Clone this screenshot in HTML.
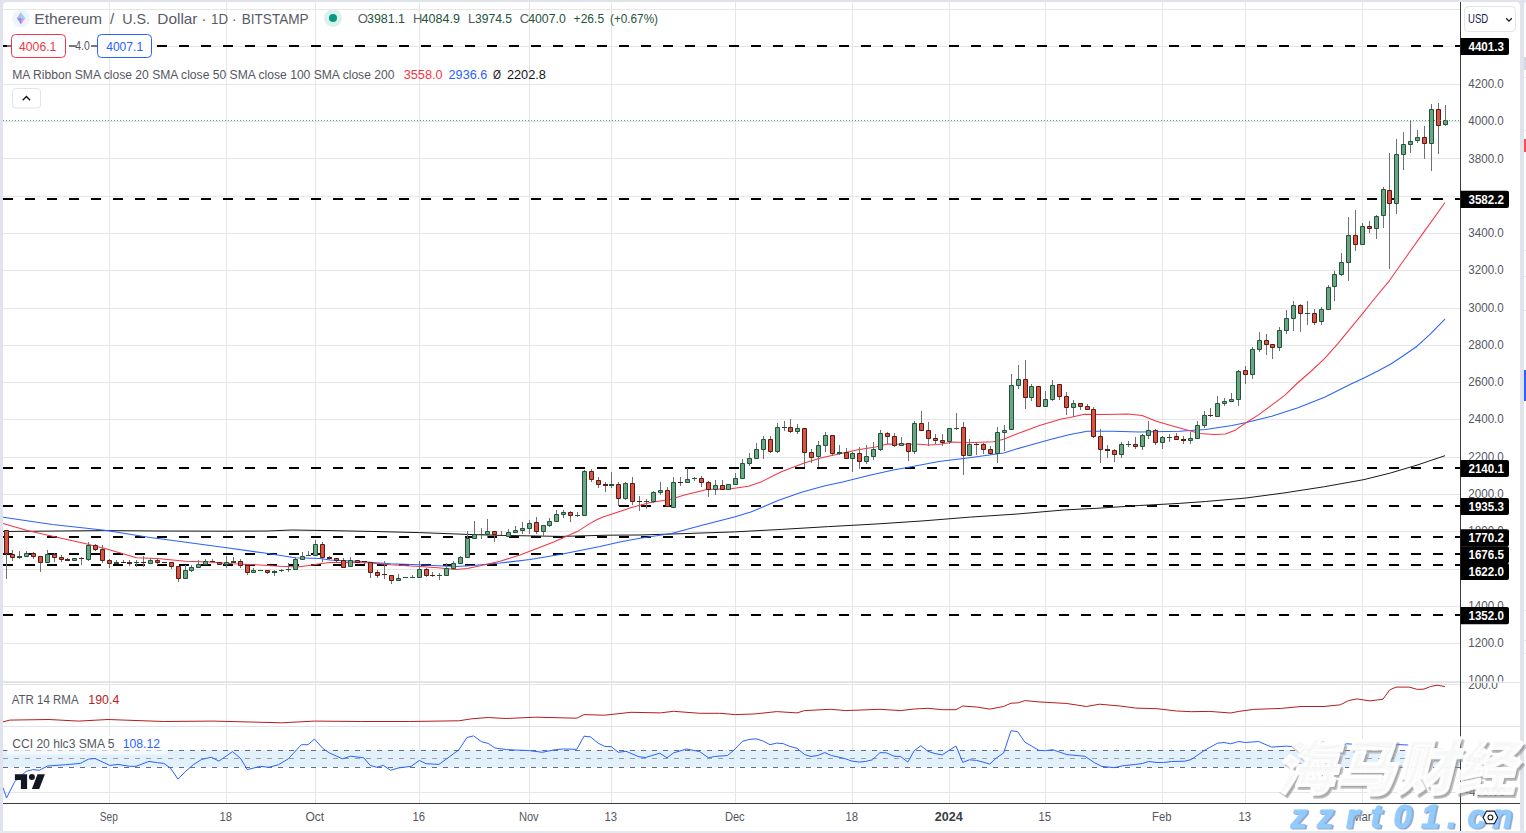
<!DOCTYPE html>
<html lang="en"><head><meta charset="utf-8"><title>ETHUSD chart</title>
<style>html,body{margin:0;padding:0;background:#e0e3eb;overflow:hidden}svg text{white-space:pre}</style></head>
<body>
<svg width="1526" height="833" viewBox="0 0 1526 833" style="display:block" font-family="'Liberation Sans', sans-serif">
<defs><clipPath id="cp"><rect x="3" y="2" width="1457" height="801"/></clipPath><clipPath id="c1000"><rect x="1461" y="660" width="60" height="21.5"/></clipPath><clipPath id="c200"><rect x="1461" y="683" width="60" height="20"/></clipPath><filter id="bl" x="-5%" y="-5%" width="110%" height="110%"><feGaussianBlur stdDeviation="0.7"/></filter><clipPath id="cw"><rect x="3" y="2" width="1523" height="830"/></clipPath></defs>
<rect width="1526" height="833" fill="#e0e3eb"/>
<path d="M3 831V6a4 4 0 0 1 4 -4H1516a4 4 0 0 1 4 4V831Z" fill="#fff"/>
<rect x="0" y="831" width="1526" height="2" fill="#e6e8ef"/>
<path d="M1524 831V5a3 3 0 0 1 3 -3V831Z" fill="#fff"/>
<rect x="1524" y="57" width="2" height="13" fill="#d5d8e0"/>
<rect x="1524" y="139" width="2" height="13" fill="#ff4d4f"/>
<rect x="1524" y="370" width="2" height="31" fill="#2962ff"/>
<rect x="1524" y="77" width="2" height="1" fill="#e6e8ee"/>
<rect x="1524" y="130" width="2" height="1" fill="#e6e8ee"/>
<rect x="1524" y="250" width="2" height="1" fill="#e6e8ee"/>
<rect x="1524" y="276" width="2" height="1" fill="#e6e8ee"/>
<rect x="1524" y="310" width="2" height="1" fill="#e6e8ee"/>
<rect x="1524" y="610" width="2" height="1" fill="#e6e8ee"/>
<rect x="1524" y="640" width="2" height="1" fill="#e6e8ee"/>
<rect x="1524" y="653" width="2" height="1" fill="#e6e8ee"/>
<path d="M3 9.5H1460 M3 46.5H1460 M3 84.5H1460 M3 121.5H1460 M3 158.5H1460 M3 196.5H1460 M3 233.5H1460 M3 270.5H1460 M3 308.5H1460 M3 345.5H1460 M3 382.5H1460 M3 419.5H1460 M3 457.5H1460 M3 494.5H1460 M3 531.5H1460 M3 569.5H1460 M3 606.5H1460 M3 643.5H1460 M3 681.5H1460 M109.5 2V803 M226.5 2V803 M315.5 2V803 M419.5 2V803 M529.5 2V803 M611.5 2V803 M735.5 2V803 M852.5 2V803 M949.5 2V803 M1045.5 2V803 M1162.5 2V803 M1245.5 2V803 M1362.5 2V803 M3 684.5H1460 M3 792.5H1460" stroke="#e6e6e6" stroke-width="1" fill="none"/>
<rect x="3" y="682" width="1517" height="1" fill="#e0e3eb"/>
<rect x="3" y="726" width="1517" height="1" fill="#e0e3eb"/>
<rect x="3" y="750" width="1457" height="17.5" fill="#e3f1fd"/>
<path d="M3 750.5H1460M3 767.5H1460" stroke="#6a6d78" stroke-width="1" stroke-dasharray="5 6" fill="none"/>
<path d="M3 758.5H1460" stroke="#9a9da6" stroke-width="1" stroke-dasharray="5 6" fill="none"/>
<g clip-path="url(#cp)">
<path d="M3 46H1460" stroke="#000" stroke-width="2" stroke-dasharray="10 12" fill="none"/>
<path d="M3 199H1460" stroke="#000" stroke-width="2" stroke-dasharray="10 12" fill="none"/>
<path d="M3 468H1460" stroke="#000" stroke-width="2" stroke-dasharray="10 12" fill="none"/>
<path d="M3 506H1460" stroke="#000" stroke-width="2" stroke-dasharray="10 12" fill="none"/>
<path d="M3 537H1460" stroke="#000" stroke-width="2" stroke-dasharray="10 12" fill="none"/>
<path d="M3 554H1460" stroke="#000" stroke-width="2" stroke-dasharray="10 12" fill="none"/>
<path d="M3 565H1460" stroke="#000" stroke-width="2" stroke-dasharray="10 12" fill="none"/>
<path d="M3 615H1460" stroke="#000" stroke-width="2" stroke-dasharray="10 12" fill="none"/>
<path d="M3.1 531.5 L104.8 530.6 L160.0 531.0 L226.7 531.2 L268.0 531.0 L291.5 530.0 L330.0 530.6 L379.0 531.6 L419.4 532.6 L467.4 534.4 L500.0 535.4 L560.8 536.4 L608.0 535.2 L640.0 535.0 L687.0 533.5 L734.4 531.9 L781.5 529.4 L828.7 526.6 L876.0 524.0 L923.0 520.9 L970.3 517.1 L1017.5 514.0 L1064.7 509.9 L1100.0 508.1 L1139.6 505.5 L1179.2 503.4 L1205.6 501.5 L1245.3 498.1 L1285.0 492.8 L1324.5 486.7 L1364.0 479.6 L1390.5 473.0 L1417.0 465.1 L1444.7 455.8" stroke="#1a1a1a" stroke-width="1.0" fill="none" stroke-linejoin="round" stroke-linecap="round" />
<path d="M3.1 517.3 L52.4 524.5 L104.8 530.2 L150.0 537.4 L160.0 538.8 L226.7 547.7 L268.0 553.6 L295.0 557.8 L320.0 558.6 L330.0 560.1 L355.4 561.3 L390.8 563.7 L419.4 564.8 L438.0 565.7 L455.6 566.4 L473.3 565.4 L500.0 563.1 L530.0 559.5 L560.0 554.5 L600.0 546.5 L619.7 542.0 L640.0 538.2 L671.5 533.5 L703.0 525.0 L734.4 517.1 L750.8 512.0 L765.8 505.8 L778.0 500.5 L801.5 492.2 L825.0 485.7 L842.6 482.0 L869.7 475.2 L893.3 469.9 L910.0 467.0 L938.8 461.6 L967.6 458.0 L1003.6 452.9 L1025.2 446.4 L1054.0 438.5 L1070.0 434.6 L1087.3 431.3 L1113.2 431.3 L1139.6 432.0 L1179.2 431.3 L1205.6 429.4 L1232.0 425.5 L1245.3 422.8 L1271.7 416.2 L1298.0 407.8 L1324.5 397.2 L1351.0 384.0 L1364.0 377.9 L1377.3 371.3 L1390.5 364.2 L1403.7 355.5 L1417.0 346.2 L1430.0 334.3 L1444.7 319.3" stroke="#2962ff" stroke-width="1.05" fill="none" stroke-linejoin="round" stroke-linecap="round" />
<path d="M3.1 523.6 L27.3 530.4 L52.4 536.2 L83.9 543.3 L104.8 548.6 L120.5 553.0 L136.3 557.7 L150.0 558.2 L160.0 558.7 L185.4 561.3 L209.0 561.9 L232.6 563.7 L256.0 564.8 L279.7 566.3 L297.4 567.0 L309.0 565.4 L320.0 563.7 L330.0 562.5 L343.6 562.5 L367.0 562.8 L390.8 564.8 L419.4 566.4 L438.0 567.8 L455.6 569.6 L467.4 568.4 L485.0 564.8 L500.0 561.3 L520.0 555.0 L553.7 542.0 L577.3 531.6 L588.5 524.4 L596.2 520.0 L603.0 517.0 L611.5 514.2 L631.5 507.5 L649.2 502.8 L670.0 499.6 L683.6 495.2 L707.0 489.6 L730.8 488.7 L748.5 486.3 L761.0 482.0 L781.3 471.7 L804.9 462.8 L822.6 457.5 L840.0 453.7 L858.0 449.8 L875.6 446.9 L887.4 444.0 L905.0 444.3 L920.0 444.3 L928.7 445.0 L938.8 444.6 L953.2 442.1 L967.6 442.8 L993.5 441.8 L1003.6 439.2 L1018.0 433.5 L1039.6 425.6 L1061.2 419.1 L1070.0 417.6 L1084.4 414.3 L1106.0 414.5 L1127.6 414.0 L1142.0 415.5 L1156.4 421.2 L1170.8 425.6 L1185.2 429.6 L1199.6 433.5 L1214.0 434.5 L1225.5 433.9 L1235.6 429.9 L1248.0 421.5 L1258.5 414.9 L1285.0 395.1 L1297.0 383.5 L1311.3 371.0 L1324.5 358.6 L1337.7 343.8 L1351.0 327.7 L1364.0 311.9 L1373.4 300.0 L1389.3 280.8 L1408.0 254.3 L1423.6 232.4 L1444.7 203.0" stroke="#f23645" stroke-width="1.05" fill="none" stroke-linejoin="round" stroke-linecap="round" />
<path d="M6.5 530.0V579.0 M12.5 550.0V561.0 M19.5 551.0V559.0 M26.5 551.0V556.0 M33.5 552.0V559.0 M40.5 556.0V572.0 M47.5 550.0V562.0 M54.5 553.0V562.0 M61.5 555.0V562.0 M67.5 558.0V561.0 M74.5 558.0V561.0 M81.5 557.0V565.0 M88.5 542.0V561.0 M95.5 544.0V551.0 M102.5 545.0V563.0 M109.5 559.0V568.0 M116.5 560.0V564.0 M123.5 560.0V563.0 M129.5 560.0V566.0 M136.5 560.0V567.0 M143.5 556.0V567.0 M150.5 558.0V564.0 M157.5 558.0V565.0 M164.5 562.0V563.0 M171.5 562.0V569.0 M178.5 566.0V582.0 M185.5 565.0V579.0 M191.5 565.0V572.0 M198.5 560.0V568.0 M205.5 559.0V565.0 M212.5 559.0V562.0 M219.5 562.0V565.0 M226.5 556.0V568.0 M233.5 557.0V562.0 M240.5 559.0V568.0 M247.5 564.0V575.0 M253.5 568.0V573.0 M260.5 570.0V571.0 M267.5 570.0V574.0 M274.5 570.0V576.0 M281.5 569.0V572.0 M288.5 563.0V572.0 M295.5 557.0V570.0 M302.5 552.0V560.0 M308.5 551.0V556.0 M315.5 540.0V555.0 M322.5 542.0V562.0 M329.5 556.0V560.0 M336.5 558.0V563.0 M343.5 558.0V568.0 M350.5 557.0V567.0 M357.5 560.0V562.0 M364.5 561.0V564.0 M370.5 562.0V578.0 M377.5 570.0V578.0 M384.5 561.0V579.0 M391.5 575.0V584.0 M398.5 574.0V581.0 M405.5 577.0V578.0 M412.5 575.0V578.0 M419.5 561.0V578.0 M426.5 568.0V577.0 M432.5 572.0V577.0 M439.5 573.0V580.0 M446.5 563.0V575.0 M453.5 561.0V570.0 M460.5 556.0V564.0 M467.5 531.0V558.0 M474.5 521.0V539.0 M481.5 528.0V539.0 M487.5 519.0V538.0 M494.5 532.0V542.0 M501.5 531.0V536.0 M508.5 529.0V537.0 M515.5 526.0V533.0 M522.5 522.0V534.0 M529.5 520.0V534.0 M536.5 517.0V534.0 M543.5 525.0V536.0 M549.5 518.0V527.0 M556.5 510.0V522.0 M563.5 510.0V518.0 M570.5 511.0V522.0 M577.5 512.0V517.0 M584.5 470.0V516.0 M591.5 469.0V482.0 M598.5 477.0V488.0 M605.5 482.0V492.0 M611.5 472.0V488.0 M618.5 482.0V506.0 M625.5 482.0V500.0 M632.5 477.0V505.0 M639.5 496.0V511.0 M646.5 499.0V509.0 M653.5 491.0V503.0 M660.5 482.0V495.0 M667.5 487.0V507.0 M673.5 477.0V508.0 M680.5 477.0V486.0 M687.5 468.0V483.0 M694.5 477.0V481.0 M701.5 476.0V487.0 M708.5 481.0V497.0 M715.5 480.0V495.0 M722.5 480.0V490.0 M728.5 484.0V490.0 M735.5 473.0V485.0 M742.5 459.0V479.0 M749.5 453.0V466.0 M756.5 443.0V459.0 M763.5 436.0V459.0 M770.5 436.0V453.0 M777.5 423.0V453.0 M784.5 421.0V431.0 M790.5 419.0V433.0 M797.5 424.0V434.0 M804.5 428.0V467.0 M811.5 449.0V463.0 M818.5 441.0V467.0 M825.5 432.0V452.0 M832.5 435.0V456.0 M839.5 445.0V455.0 M846.5 448.0V459.0 M852.5 452.0V472.0 M859.5 447.0V469.0 M866.5 445.0V464.0 M873.5 442.0V460.0 M880.5 430.0V451.0 M887.5 432.0V444.0 M894.5 433.0V447.0 M901.5 437.0V445.0 M908.5 443.0V461.0 M914.5 421.0V454.0 M921.5 411.0V430.0 M928.5 422.0V446.0 M935.5 434.0V444.0 M942.5 434.0V446.0 M949.5 428.0V444.0 M956.5 413.0V430.0 M963.5 422.0V475.0 M969.5 439.0V455.0 M976.5 442.0V455.0 M983.5 443.0V454.0 M990.5 446.0V455.0 M997.5 427.0V463.0 M1004.5 425.0V451.0 M1011.5 374.0V430.0 M1018.5 365.0V389.0 M1025.5 360.0V409.0 M1031.5 384.0V401.0 M1038.5 386.0V406.0 M1045.5 391.0V406.0 M1052.5 380.0V401.0 M1059.5 384.0V400.0 M1066.5 392.0V415.0 M1073.5 400.0V417.0 M1080.5 403.0V410.0 M1087.5 404.0V409.0 M1093.5 407.0V438.0 M1100.5 429.0V463.0 M1107.5 445.0V458.0 M1114.5 449.0V462.0 M1121.5 442.0V458.0 M1128.5 441.0V447.0 M1135.5 437.0V449.0 M1142.5 434.0V450.0 M1148.5 421.0V439.0 M1155.5 429.0V445.0 M1162.5 436.0V449.0 M1169.5 434.0V442.0 M1176.5 433.0V440.0 M1183.5 436.0V444.0 M1190.5 432.0V444.0 M1197.5 421.0V439.0 M1204.5 411.0V428.0 M1210.5 408.0V417.0 M1217.5 396.0V416.0 M1224.5 398.0V406.0 M1231.5 393.0V402.0 M1238.5 370.0V406.0 M1245.5 366.0V384.0 M1252.5 347.0V379.0 M1259.5 332.0V352.0 M1266.5 334.0V355.0 M1272.5 344.0V359.0 M1279.5 327.0V351.0 M1286.5 310.0V334.0 M1293.5 301.0V331.0 M1300.5 304.0V332.0 M1307.5 301.0V325.0 M1314.5 309.0V325.0 M1321.5 307.0V325.0 M1328.5 285.0V309.0 M1334.5 271.0V301.0 M1341.5 253.0V276.0 M1348.5 217.0V281.0 M1355.5 210.0V251.0 M1362.5 223.0V245.0 M1369.5 221.0V233.0 M1376.5 215.0V239.0 M1383.5 187.0V228.0 M1389.5 153.0V269.0 M1396.5 139.0V214.0 M1403.5 132.0V170.0 M1410.5 121.0V153.0 M1417.5 130.0V143.0 M1424.5 126.0V159.0 M1431.5 104.0V171.0 M1438.5 103.0V154.0 M1445.5 105.0V126.0" stroke="#707073" stroke-width="1" fill="none"/>
<path d="M24.5 553.5H28.5V556.5H24.5Z M45.5 554.5H49.5V562.5H45.5Z M72.5 558.5H76.5V560.5H72.5Z M86.5 545.5H90.5V559.5H86.5Z M148.5 560.5H152.5V563.5H148.5Z M183.5 570.5H187.5V578.5H183.5Z M189.5 567.5H193.5V570.5H189.5Z M196.5 564.5H200.5V567.5H196.5Z M203.5 561.5H207.5V564.5H203.5Z M224.5 562.5H228.5V564.5H224.5Z M251.5 570.5H255.5V572.5H251.5Z M293.5 559.5H297.5V569.5H293.5Z M300.5 556.5H304.5V559.5H300.5Z M313.5 544.5H317.5V555.5H313.5Z M348.5 560.5H352.5V566.5H348.5Z M396.5 578.5H400.5V580.5H396.5Z M417.5 569.5H421.5V577.5H417.5Z M444.5 568.5H448.5V575.5H444.5Z M451.5 563.5H455.5V568.5H451.5Z M458.5 557.5H462.5V563.5H458.5Z M465.5 538.5H469.5V557.5H465.5Z M472.5 534.5H476.5V538.5H472.5Z M485.5 531.5H489.5V534.5H485.5Z M506.5 532.5H510.5V536.5H506.5Z M513.5 530.5H517.5V532.5H513.5Z M520.5 528.5H524.5V530.5H520.5Z M527.5 523.5H531.5V528.5H527.5Z M541.5 525.5H545.5V531.5H541.5Z M547.5 521.5H551.5V525.5H547.5Z M554.5 514.5H558.5V521.5H554.5Z M561.5 512.5H565.5V514.5H561.5Z M582.5 471.5H586.5V515.5H582.5Z M623.5 483.5H627.5V498.5H623.5Z M651.5 492.5H655.5V501.5H651.5Z M658.5 490.5H662.5V492.5H658.5Z M671.5 482.5H675.5V507.5H671.5Z M685.5 479.5H689.5V482.5H685.5Z M713.5 485.5H717.5V489.5H713.5Z M726.5 484.5H730.5V489.5H726.5Z M733.5 478.5H737.5V484.5H733.5Z M740.5 463.5H744.5V478.5H740.5Z M747.5 458.5H751.5V463.5H747.5Z M754.5 449.5H758.5V458.5H754.5Z M761.5 439.5H765.5V449.5H761.5Z M775.5 427.5H779.5V451.5H775.5Z M795.5 428.5H799.5V431.5H795.5Z M816.5 445.5H820.5V456.5H816.5Z M823.5 435.5H827.5V445.5H823.5Z M850.5 453.5H854.5V458.5H850.5Z M864.5 456.5H868.5V461.5H864.5Z M871.5 449.5H875.5V456.5H871.5Z M878.5 433.5H882.5V449.5H878.5Z M899.5 443.5H903.5V445.5H899.5Z M912.5 423.5H916.5V451.5H912.5Z M947.5 428.5H951.5V441.5H947.5Z M967.5 444.5H971.5V455.5H967.5Z M995.5 432.5H999.5V453.5H995.5Z M1002.5 430.5H1006.5V432.5H1002.5Z M1009.5 385.5H1013.5V429.5H1009.5Z M1016.5 379.5H1020.5V385.5H1016.5Z M1029.5 386.5H1033.5V397.5H1029.5Z M1043.5 399.5H1047.5V406.5H1043.5Z M1050.5 385.5H1054.5V399.5H1050.5Z M1071.5 403.5H1075.5V407.5H1071.5Z M1119.5 444.5H1123.5V454.5H1119.5Z M1140.5 435.5H1144.5V446.5H1140.5Z M1146.5 430.5H1150.5V435.5H1146.5Z M1160.5 437.5H1164.5V442.5H1160.5Z M1188.5 438.5H1192.5V440.5H1188.5Z M1195.5 425.5H1199.5V438.5H1195.5Z M1202.5 415.5H1206.5V425.5H1202.5Z M1215.5 403.5H1219.5V416.5H1215.5Z M1222.5 401.5H1226.5V403.5H1222.5Z M1229.5 399.5H1233.5V401.5H1229.5Z M1236.5 371.5H1240.5V399.5H1236.5Z M1250.5 349.5H1254.5V374.5H1250.5Z M1257.5 340.5H1261.5V349.5H1257.5Z M1277.5 330.5H1281.5V347.5H1277.5Z M1284.5 318.5H1288.5V330.5H1284.5Z M1291.5 305.5H1295.5V318.5H1291.5Z M1319.5 309.5H1323.5V321.5H1319.5Z M1326.5 287.5H1330.5V309.5H1326.5Z M1332.5 274.5H1336.5V286.5H1332.5Z M1339.5 262.5H1343.5V274.5H1339.5Z M1346.5 235.5H1350.5V262.5H1346.5Z M1360.5 226.5H1364.5V244.5H1360.5Z M1374.5 216.5H1378.5V228.5H1374.5Z M1381.5 189.5H1385.5V215.5H1381.5Z M1394.5 154.5H1398.5V203.5H1394.5Z M1401.5 144.5H1405.5V154.5H1401.5Z M1408.5 141.5H1412.5V144.5H1408.5Z M1415.5 137.5H1419.5V140.5H1415.5Z M1429.5 109.5H1433.5V143.5H1429.5Z M1443.5 120.5H1447.5V124.5H1443.5Z" stroke="#225437" stroke-width="1" fill="#6ba583"/>
<path d="M4.5 530.5H8.5V553.5H4.5Z M10.5 554.5H14.5V557.5H10.5Z M31.5 553.5H35.5V556.5H31.5Z M38.5 556.5H42.5V562.5H38.5Z M52.5 554.5H56.5V557.5H52.5Z M59.5 557.5H63.5V559.5H59.5Z M93.5 545.5H97.5V549.5H93.5Z M100.5 549.5H104.5V560.5H100.5Z M107.5 560.5H111.5V563.5H107.5Z M155.5 560.5H159.5V562.5H155.5Z M169.5 562.5H173.5V566.5H169.5Z M176.5 566.5H180.5V578.5H176.5Z M217.5 562.5H221.5V564.5H217.5Z M238.5 561.5H242.5V565.5H238.5Z M245.5 565.5H249.5V572.5H245.5Z M265.5 570.5H269.5V572.5H265.5Z M320.5 544.5H324.5V557.5H320.5Z M334.5 558.5H338.5V560.5H334.5Z M341.5 560.5H345.5V567.5H341.5Z M355.5 560.5H359.5V562.5H355.5Z M368.5 562.5H372.5V572.5H368.5Z M375.5 572.5H379.5V575.5H375.5Z M389.5 575.5H393.5V580.5H389.5Z M424.5 569.5H428.5V575.5H424.5Z M492.5 531.5H496.5V534.5H492.5Z M534.5 522.5H538.5V531.5H534.5Z M568.5 512.5H572.5V515.5H568.5Z M589.5 471.5H593.5V479.5H589.5Z M596.5 480.5H600.5V484.5H596.5Z M616.5 484.5H620.5V498.5H616.5Z M630.5 483.5H634.5V501.5H630.5Z M665.5 490.5H669.5V506.5H665.5Z M699.5 478.5H703.5V482.5H699.5Z M706.5 482.5H710.5V489.5H706.5Z M720.5 485.5H724.5V489.5H720.5Z M768.5 439.5H772.5V451.5H768.5Z M788.5 427.5H792.5V431.5H788.5Z M802.5 428.5H806.5V452.5H802.5Z M809.5 452.5H813.5V457.5H809.5Z M830.5 435.5H834.5V453.5H830.5Z M844.5 452.5H848.5V458.5H844.5Z M857.5 453.5H861.5V461.5H857.5Z M885.5 433.5H889.5V436.5H885.5Z M892.5 436.5H896.5V445.5H892.5Z M906.5 443.5H910.5V451.5H906.5Z M919.5 423.5H923.5V430.5H919.5Z M926.5 430.5H930.5V438.5H926.5Z M933.5 438.5H937.5V440.5H933.5Z M940.5 440.5H944.5V442.5H940.5Z M961.5 427.5H965.5V455.5H961.5Z M981.5 444.5H985.5V449.5H981.5Z M988.5 449.5H992.5V453.5H988.5Z M1023.5 379.5H1027.5V397.5H1023.5Z M1036.5 386.5H1040.5V406.5H1036.5Z M1057.5 384.5H1061.5V396.5H1057.5Z M1064.5 396.5H1068.5V407.5H1064.5Z M1078.5 403.5H1082.5V406.5H1078.5Z M1085.5 406.5H1089.5V409.5H1085.5Z M1091.5 409.5H1095.5V436.5H1091.5Z M1098.5 436.5H1102.5V449.5H1098.5Z M1112.5 450.5H1116.5V454.5H1112.5Z M1133.5 444.5H1137.5V446.5H1133.5Z M1153.5 430.5H1157.5V442.5H1153.5Z M1174.5 436.5H1178.5V439.5H1174.5Z M1243.5 370.5H1247.5V374.5H1243.5Z M1264.5 340.5H1268.5V344.5H1264.5Z M1270.5 344.5H1274.5V347.5H1270.5Z M1298.5 305.5H1302.5V313.5H1298.5Z M1312.5 313.5H1316.5V322.5H1312.5Z M1353.5 235.5H1357.5V244.5H1353.5Z M1367.5 226.5H1371.5V228.5H1367.5Z M1387.5 190.5H1391.5V203.5H1387.5Z M1422.5 137.5H1426.5V143.5H1422.5Z M1436.5 109.5H1440.5V125.5H1436.5Z" stroke="#5b1a13" stroke-width="1" fill="#d75442"/>
<path d="M17.0 556.5H22.0 M17.0 557.5H22.0 M114.0 562.5H119.0 M114.0 563.5H119.0 M134.0 562.5H139.0 M231.0 561.5H236.0 M231.0 562.5H236.0 M258.0 570.5H263.0 M272.0 571.5H277.0 M272.0 572.5H277.0 M279.0 570.5H284.0 M286.0 569.5H291.0 M306.0 555.5H311.0 M403.0 577.5H408.0 M410.0 577.5H415.0 M437.0 575.5H442.0 M479.0 534.5H484.0 M575.0 515.5H580.0 M609.0 484.5H614.0 M609.0 485.5H614.0 M644.0 501.5H649.0 M692.0 478.5H697.0 M782.0 427.5H787.0 M837.0 452.5H842.0 M837.0 453.5H842.0 M954.0 428.5H959.0 M1126.0 444.5H1131.0 M1167.0 437.5H1172.0 M1305.0 313.5H1310.0" stroke="#225437" stroke-width="1" fill="none"/>
<path d="M65.0 559.5H70.0 M65.0 560.5H70.0 M79.0 558.5H84.0 M121.0 562.5H126.0 M127.0 562.5H132.0 M127.0 563.5H132.0 M141.0 562.5H146.0 M162.0 562.5H167.0 M210.0 561.5H215.0 M327.0 557.5H332.0 M327.0 558.5H332.0 M362.0 561.5H367.0 M382.0 574.5H387.0 M430.0 575.5H435.0 M499.0 535.5H504.0 M603.0 484.5H608.0 M603.0 485.5H608.0 M637.0 501.5H642.0 M678.0 482.5H683.0 M974.0 444.5H979.0 M1105.0 449.5H1110.0 M1105.0 450.5H1110.0 M1181.0 439.5H1186.0 M1181.0 440.5H1186.0 M1208.0 415.5H1213.0" stroke="#5b1a13" stroke-width="1" fill="none"/>
<path d="M3 120.5H1460" stroke="#57a37a" stroke-width="1" stroke-dasharray="1 2" fill="none"/>
<path d="M3.3 721.8 L9.8 720.1 L49.0 719.5 L78.6 721.1 L108.0 719.5 L163.8 721.5 L213.0 721.1 L281.8 722.8 L314.5 721.1 L360.4 721.5 L409.6 721.5 L458.7 720.8 L471.8 718.8 L488.2 717.5 L500.0 718.2 L506.4 718.5 L535.9 717.2 L576.8 718.2 L584.0 714.6 L604.7 715.2 L631.0 712.3 L660.4 712.9 L673.5 711.3 L699.7 713.3 L719.4 713.3 L735.7 714.6 L755.4 713.9 L776.7 711.6 L797.0 712.9 L804.5 710.6 L830.8 709.3 L845.5 710.6 L880.0 709.3 L900.6 710.6 L914.3 709.0 L928.0 708.3 L942.2 709.7 L956.0 709.7 L962.8 706.0 L976.6 707.0 L989.8 709.1 L1003.6 706.5 L1011.0 703.2 L1017.7 702.9 L1024.9 700.6 L1039.0 701.9 L1066.8 703.5 L1086.5 706.5 L1099.6 704.2 L1120.9 706.1 L1135.6 708.1 L1157.0 708.7 L1176.6 711.0 L1191.3 711.7 L1209.4 711.4 L1230.7 713.0 L1238.8 711.4 L1253.6 709.4 L1281.4 708.4 L1301.0 706.5 L1324.0 706.5 L1340.4 704.8 L1348.6 700.6 L1356.8 698.9 L1370.0 700.9 L1383.0 699.2 L1389.6 690.0 L1396.0 687.1 L1409.2 687.1 L1417.4 689.4 L1424.0 689.1 L1430.5 686.5 L1437.0 685.2 L1444.6 686.5" stroke="#b71c1c" stroke-width="1.0" fill="none" stroke-linejoin="round" stroke-linecap="round" />
<path d="M3.3 788.3 L6.5 798.0 L14.7 781.7 L26.2 771.3 L32.8 769.6 L39.3 770.3 L47.5 766.0 L65.5 764.7 L80.3 763.4 L88.5 759.1 L95.0 758.5 L109.8 765.4 L118.0 764.4 L129.4 766.3 L136.0 766.3 L149.0 761.4 L157.3 762.7 L163.8 763.4 L170.4 768.0 L178.0 779.1 L185.0 771.9 L193.3 764.7 L201.5 759.5 L211.3 757.2 L218.9 761.1 L232.6 751.6 L240.8 758.8 L247.4 769.6 L260.5 766.3 L268.7 767.3 L278.5 764.7 L288.3 758.8 L301.4 744.7 L308.0 744.7 L314.5 739.1 L322.7 748.3 L329.3 752.9 L342.4 758.8 L350.6 756.2 L363.7 757.8 L370.2 765.4 L376.8 767.3 L383.4 765.4 L390.6 770.3 L398.0 768.0 L411.2 766.3 L419.4 760.4 L426.0 763.7 L439.0 764.4 L458.7 750.0 L467.0 737.5 L473.5 735.9 L481.7 741.8 L488.2 743.4 L495.0 748.0 L506.4 749.6 L529.3 750.6 L542.4 752.3 L555.5 749.6 L563.7 749.0 L576.8 749.3 L584.0 736.2 L590.6 736.9 L598.0 743.1 L604.7 746.4 L611.2 746.7 L618.4 752.3 L626.0 751.3 L639.0 756.8 L645.6 757.5 L659.7 753.2 L667.0 757.8 L673.5 752.9 L686.6 749.0 L699.7 751.6 L708.5 757.8 L714.4 756.5 L727.5 755.5 L734.0 750.0 L742.3 741.4 L748.8 739.5 L756.0 738.8 L762.6 740.8 L770.0 744.7 L776.7 743.1 L783.3 743.7 L789.8 746.4 L797.0 748.3 L804.5 754.5 L811.0 756.5 L817.7 755.5 L824.9 752.6 L831.4 755.5 L839.0 757.2 L845.5 758.8 L852.0 761.1 L859.3 762.1 L865.8 761.4 L872.4 759.8 L880.0 752.6 L886.5 752.9 L894.0 756.2 L900.6 756.5 L907.8 762.1 L914.3 750.6 L920.9 745.7 L928.0 751.3 L935.0 753.6 L942.2 754.9 L948.7 750.6 L956.0 746.0 L962.8 762.4 L969.4 759.8 L976.6 760.4 L983.0 762.1 L989.8 764.1 L996.4 757.9 L1003.6 753.0 L1011.0 730.7 L1017.7 731.7 L1024.9 742.2 L1039.0 750.4 L1045.5 750.7 L1052.7 749.7 L1066.8 754.6 L1084.8 756.3 L1094.7 762.8 L1101.9 766.4 L1114.3 767.7 L1122.5 765.8 L1135.6 764.4 L1142.2 763.5 L1148.7 761.5 L1157.0 762.5 L1163.5 762.5 L1171.7 761.5 L1184.8 761.2 L1191.3 759.5 L1204.4 750.4 L1217.5 743.2 L1224.0 742.5 L1230.7 743.8 L1238.8 741.5 L1245.4 742.5 L1258.5 741.5 L1271.6 747.1 L1286.4 746.1 L1296.0 747.1 L1314.2 751.0 L1347.0 743.8 L1370.0 745.4 L1388.0 747.1 L1397.8 744.5 L1409.2 745.1 L1422.3 747.7 L1435.4 748.1 L1444.6 749.7" stroke="#2962ff" stroke-width="1.0" fill="none" stroke-linejoin="round" stroke-linecap="round" />
</g>
<rect x="1460" y="2" width="1" height="829" fill="#3a3a3a"/>
<rect x="3" y="803" width="1517" height="1" fill="#3a3a3a"/>
<text x="1468.3" y="88.0" font-size="12" fill="#55575f" font-weight="normal" text-anchor="start" textLength="35.5" lengthAdjust="spacingAndGlyphs" >4200.0</text>
<text x="1468.3" y="125.3" font-size="12" fill="#55575f" font-weight="normal" text-anchor="start" textLength="35.5" lengthAdjust="spacingAndGlyphs" >4000.0</text>
<text x="1468.3" y="162.5" font-size="12" fill="#55575f" font-weight="normal" text-anchor="start" textLength="35.5" lengthAdjust="spacingAndGlyphs" >3800.0</text>
<text x="1468.3" y="237.1" font-size="12" fill="#55575f" font-weight="normal" text-anchor="start" textLength="35.5" lengthAdjust="spacingAndGlyphs" >3400.0</text>
<text x="1468.3" y="274.3" font-size="12" fill="#55575f" font-weight="normal" text-anchor="start" textLength="35.5" lengthAdjust="spacingAndGlyphs" >3200.0</text>
<text x="1468.3" y="311.6" font-size="12" fill="#55575f" font-weight="normal" text-anchor="start" textLength="35.5" lengthAdjust="spacingAndGlyphs" >3000.0</text>
<text x="1468.3" y="348.9" font-size="12" fill="#55575f" font-weight="normal" text-anchor="start" textLength="35.5" lengthAdjust="spacingAndGlyphs" >2800.0</text>
<text x="1468.3" y="386.1" font-size="12" fill="#55575f" font-weight="normal" text-anchor="start" textLength="35.5" lengthAdjust="spacingAndGlyphs" >2600.0</text>
<text x="1468.3" y="423.4" font-size="12" fill="#55575f" font-weight="normal" text-anchor="start" textLength="35.5" lengthAdjust="spacingAndGlyphs" >2400.0</text>
<text x="1468.3" y="460.7" font-size="12" fill="#55575f" font-weight="normal" text-anchor="start" textLength="35.5" lengthAdjust="spacingAndGlyphs" >2200.0</text>
<text x="1468.3" y="497.9" font-size="12" fill="#55575f" font-weight="normal" text-anchor="start" textLength="35.5" lengthAdjust="spacingAndGlyphs" >2000.0</text>
<text x="1468.3" y="535.2" font-size="12" fill="#55575f" font-weight="normal" text-anchor="start" textLength="35.5" lengthAdjust="spacingAndGlyphs" >1800.0</text>
<text x="1468.3" y="572.5" font-size="12" fill="#55575f" font-weight="normal" text-anchor="start" textLength="35.5" lengthAdjust="spacingAndGlyphs" >1600.0</text>
<text x="1468.3" y="609.7" font-size="12" fill="#55575f" font-weight="normal" text-anchor="start" textLength="35.5" lengthAdjust="spacingAndGlyphs" >1400.0</text>
<text x="1468.3" y="647.0" font-size="12" fill="#55575f" font-weight="normal" text-anchor="start" textLength="35.5" lengthAdjust="spacingAndGlyphs" >1200.0</text>
<g clip-path="url(#c1000)">
<text x="1468.3" y="684.3" font-size="12" fill="#55575f" font-weight="normal" text-anchor="start" textLength="35.5" lengthAdjust="spacingAndGlyphs" >1000.0</text>
</g>
<g clip-path="url(#c200)">
<text x="1468.3" y="688.5" font-size="12" fill="#55575f" font-weight="normal" text-anchor="start" textLength="29.4" lengthAdjust="spacingAndGlyphs" >200.0</text>
</g>
<text x="1468.3" y="762.8" font-size="12" fill="#55575f" font-weight="normal" text-anchor="start" textLength="23.5" lengthAdjust="spacingAndGlyphs" >0.00</text>
<text x="1465" y="796.3" font-size="12" fill="#55575f" font-weight="normal" text-anchor="start" textLength="40.5" lengthAdjust="spacingAndGlyphs" >-400.00</text>
<path d="M1460.5 37.9H1507a2 2 0 0 1 2 2V53.1a2 2 0 0 1 -2 2H1460.5Z" fill="#000"/>
<text x="1468.5" y="50.8" font-size="12" fill="#fff" font-weight="bold" text-anchor="start" textLength="35.4" lengthAdjust="spacingAndGlyphs" >4401.3</text>
<path d="M1460.5 190.8H1507a2 2 0 0 1 2 2V206.0a2 2 0 0 1 -2 2H1460.5Z" fill="#000"/>
<text x="1468.5" y="203.7" font-size="12" fill="#fff" font-weight="bold" text-anchor="start" textLength="35.4" lengthAdjust="spacingAndGlyphs" >3582.2</text>
<path d="M1460.5 459.9H1507a2 2 0 0 1 2 2V475.09999999999997a2 2 0 0 1 -2 2H1460.5Z" fill="#000"/>
<text x="1468.5" y="472.8" font-size="12" fill="#fff" font-weight="bold" text-anchor="start" textLength="35.4" lengthAdjust="spacingAndGlyphs" >2140.1</text>
<path d="M1460.5 497.9H1507a2 2 0 0 1 2 2V513.1a2 2 0 0 1 -2 2H1460.5Z" fill="#000"/>
<text x="1468.5" y="510.8" font-size="12" fill="#fff" font-weight="bold" text-anchor="start" textLength="35.4" lengthAdjust="spacingAndGlyphs" >1935.3</text>
<path d="M1460.5 529.2H1507a2 2 0 0 1 2 2V544.4000000000001a2 2 0 0 1 -2 2H1460.5Z" fill="#000"/>
<text x="1468.5" y="542.1" font-size="12" fill="#fff" font-weight="bold" text-anchor="start" textLength="35.4" lengthAdjust="spacingAndGlyphs" >1770.2</text>
<path d="M1460.5 546.2H1507a2 2 0 0 1 2 2V561.4000000000001a2 2 0 0 1 -2 2H1460.5Z" fill="#000"/>
<text x="1468.5" y="559.1" font-size="12" fill="#fff" font-weight="bold" text-anchor="start" textLength="35.4" lengthAdjust="spacingAndGlyphs" >1676.5</text>
<path d="M1460.5 562.9H1507a2 2 0 0 1 2 2V578.1a2 2 0 0 1 -2 2H1460.5Z" fill="#000"/>
<text x="1468.5" y="575.8" font-size="12" fill="#fff" font-weight="bold" text-anchor="start" textLength="35.4" lengthAdjust="spacingAndGlyphs" >1622.0</text>
<path d="M1460.5 607.0H1507a2 2 0 0 1 2 2V622.2a2 2 0 0 1 -2 2H1460.5Z" fill="#000"/>
<text x="1468.5" y="619.9" font-size="12" fill="#fff" font-weight="bold" text-anchor="start" textLength="35.4" lengthAdjust="spacingAndGlyphs" >1352.0</text>
<rect x="1464.5" y="6.5" width="51" height="25" rx="4" fill="#fff" stroke="#e0e3eb"/>
<text x="1468" y="23.2" font-size="13" fill="#1c2050" font-weight="normal" text-anchor="start" textLength="20.2" lengthAdjust="spacingAndGlyphs" >USD</text>
<path d="M1506.2 18.3l2.8 2.8l2.8 -2.8" stroke="#131722" stroke-width="1.25" fill="none"/>
<text x="99.8" y="820.8" font-size="12" fill="#55575f" font-weight="normal" text-anchor="start" textLength="18" lengthAdjust="spacingAndGlyphs" >Sep</text>
<text x="219.5" y="820.8" font-size="12" fill="#55575f" font-weight="normal" text-anchor="start" textLength="12.6" lengthAdjust="spacingAndGlyphs" >18</text>
<text x="305.4" y="820.8" font-size="12" fill="#55575f" font-weight="normal" text-anchor="start" textLength="18.7" lengthAdjust="spacingAndGlyphs" >Oct</text>
<text x="412.5" y="820.8" font-size="12" fill="#55575f" font-weight="normal" text-anchor="start" textLength="12.6" lengthAdjust="spacingAndGlyphs" >16</text>
<text x="518.9" y="820.8" font-size="12" fill="#55575f" font-weight="normal" text-anchor="start" textLength="19.8" lengthAdjust="spacingAndGlyphs" >Nov</text>
<text x="604.5" y="820.8" font-size="12" fill="#55575f" font-weight="normal" text-anchor="start" textLength="12.6" lengthAdjust="spacingAndGlyphs" >13</text>
<text x="724.9" y="820.8" font-size="12" fill="#55575f" font-weight="normal" text-anchor="start" textLength="19.8" lengthAdjust="spacingAndGlyphs" >Dec</text>
<text x="845.5" y="820.8" font-size="12" fill="#55575f" font-weight="normal" text-anchor="start" textLength="12.6" lengthAdjust="spacingAndGlyphs" >18</text>
<text x="934.8" y="820.8" font-size="12" fill="#3a3d47" font-weight="bold" text-anchor="start" textLength="28" lengthAdjust="spacingAndGlyphs" >2024</text>
<text x="1038.5" y="820.8" font-size="12" fill="#55575f" font-weight="normal" text-anchor="start" textLength="12.6" lengthAdjust="spacingAndGlyphs" >15</text>
<text x="1152.0" y="820.8" font-size="12" fill="#55575f" font-weight="normal" text-anchor="start" textLength="19.5" lengthAdjust="spacingAndGlyphs" >Feb</text>
<text x="1238.5" y="820.8" font-size="12" fill="#55575f" font-weight="normal" text-anchor="start" textLength="12.6" lengthAdjust="spacingAndGlyphs" >13</text>
<text x="1352.0" y="820.8" font-size="12" fill="#55575f" font-weight="normal" text-anchor="start" textLength="19.5" lengthAdjust="spacingAndGlyphs" >Mar</text>
<circle cx="21" cy="18.5" r="9" fill="#f0f3fa"/>
<path d="M21 11.9L16.8 18.3H21Z" fill="#c6b0f2"/><path d="M21 11.9L25.2 18.3H21Z" fill="#84e6e0"/><path d="M16.8 18.3H21V24.3Z" fill="#668bf0"/><path d="M25.2 18.3H21V24.3Z" fill="#d48cf2"/><path d="M17.6 19.6L21 21.2L24.4 19.6" stroke="#fff" stroke-opacity="0.35" stroke-width="0.7" fill="none"/>
<text x="34.2" y="23.7" font-size="15" fill="#585b64" font-weight="normal" text-anchor="start" textLength="68" lengthAdjust="spacingAndGlyphs" >Ethereum</text>
<text x="112.2" y="23.7" font-size="15" fill="#585b64" font-weight="normal" text-anchor="middle" >/</text>
<text x="122.2" y="23.7" font-size="15" fill="#585b64" font-weight="normal" text-anchor="start" textLength="27.8" lengthAdjust="spacingAndGlyphs" >U.S.</text>
<text x="157.3" y="23.7" font-size="15" fill="#585b64" font-weight="normal" text-anchor="start" textLength="40.2" lengthAdjust="spacingAndGlyphs" >Dollar</text>
<text x="203.9" y="23.7" font-size="15" fill="#585b64" font-weight="normal" text-anchor="middle" >·</text>
<text x="211.0" y="23.7" font-size="15" fill="#585b64" font-weight="normal" text-anchor="start" textLength="17" lengthAdjust="spacingAndGlyphs" >1D</text>
<text x="234.3" y="23.7" font-size="15" fill="#585b64" font-weight="normal" text-anchor="middle" >·</text>
<text x="241.7" y="23.7" font-size="15" fill="#585b64" font-weight="normal" text-anchor="start" textLength="67" lengthAdjust="spacingAndGlyphs" >BITSTAMP</text>
<circle cx="333" cy="18" r="9" fill="#d9f2ec"/><circle cx="333" cy="18" r="4" fill="#089981"/>
<text x="357.8" y="23.4" font-size="13" fill="#5a5d66" font-weight="normal" text-anchor="start" >O</text>
<text x="367" y="23.4" font-size="13" fill="#225437" font-weight="normal" text-anchor="start" textLength="38" lengthAdjust="spacingAndGlyphs" >3981.1</text>
<text x="413" y="23.4" font-size="13" fill="#5a5d66" font-weight="normal" text-anchor="start" >H</text>
<text x="421.5" y="23.4" font-size="13" fill="#225437" font-weight="normal" text-anchor="start" textLength="38.4" lengthAdjust="spacingAndGlyphs" >4084.9</text>
<text x="468.1" y="23.4" font-size="13" fill="#5a5d66" font-weight="normal" text-anchor="start" >L</text>
<text x="474.9" y="23.4" font-size="13" fill="#225437" font-weight="normal" text-anchor="start" textLength="37.1" lengthAdjust="spacingAndGlyphs" >3974.5</text>
<text x="519.7" y="23.4" font-size="13" fill="#5a5d66" font-weight="normal" text-anchor="start" >C</text>
<text x="528.2" y="23.4" font-size="13" fill="#225437" font-weight="normal" text-anchor="start" textLength="37.6" lengthAdjust="spacingAndGlyphs" >4007.0</text>
<text x="573.6" y="23.4" font-size="13" fill="#225437" font-weight="normal" text-anchor="start" textLength="30.5" lengthAdjust="spacingAndGlyphs" >+26.5</text>
<text x="610" y="23.4" font-size="13" fill="#225437" font-weight="normal" text-anchor="start" textLength="48" lengthAdjust="spacingAndGlyphs" >(+0.67%)</text>
<rect x="7" y="38" width="148" height="16" fill="#fff"/>
<path d="M7 46H11M69 46H76M91 46H97" stroke="#777" stroke-width="2"/>
<text x="75.2" y="50.1" font-size="12" fill="#50535e" font-weight="normal" text-anchor="start" textLength="14.5" lengthAdjust="spacingAndGlyphs" >4.0</text>
<rect x="11.5" y="34.5" width="54" height="23" rx="4" fill="#fff" stroke="#f23645"/>
<text x="19" y="51.1" font-size="13" fill="#f23645" font-weight="normal" text-anchor="start" textLength="37.4" lengthAdjust="spacingAndGlyphs" >4006.1</text>
<rect x="97.5" y="34.5" width="54" height="23" rx="4" fill="#fff" stroke="#2962ff"/>
<text x="106.2" y="51.1" font-size="13" fill="#2962ff" font-weight="normal" text-anchor="start" textLength="36.9" lengthAdjust="spacingAndGlyphs" >4007.1</text>
<text x="12.2" y="78.7" font-size="12" fill="#55575f" font-weight="normal" text-anchor="start" textLength="382.3" lengthAdjust="spacingAndGlyphs" >MA Ribbon SMA close 20 SMA close 50 SMA close 100 SMA close 200</text>
<text x="403.7" y="78.7" font-size="12" fill="#f23645" font-weight="normal" text-anchor="start" textLength="39" lengthAdjust="spacingAndGlyphs" >3558.0</text>
<text x="448.6" y="78.7" font-size="12" fill="#2962ff" font-weight="normal" text-anchor="start" textLength="38.6" lengthAdjust="spacingAndGlyphs" >2936.6</text>
<text x="493" y="78.7" font-size="12" fill="#131722" font-weight="normal" text-anchor="start" textLength="8" lengthAdjust="spacingAndGlyphs" >Ø</text>
<text x="506.9" y="78.7" font-size="12" fill="#131722" font-weight="normal" text-anchor="start" textLength="39" lengthAdjust="spacingAndGlyphs" >2202.8</text>
<rect x="12.5" y="88.5" width="28" height="19.5" rx="3" fill="#fff" stroke="#e0e3eb"/>
<path d="M22.7 100.2l3.7 -3.7l3.7 3.7" stroke="#131722" stroke-width="1.4" fill="none"/>
<text x="11.8" y="703.9" font-size="12" fill="#55575f" font-weight="normal" text-anchor="start" textLength="66.8" lengthAdjust="spacingAndGlyphs" >ATR 14 RMA</text>
<text x="88.3" y="703.9" font-size="12" fill="#b71c1c" font-weight="normal" text-anchor="start" textLength="31" lengthAdjust="spacingAndGlyphs" >190.4</text>
<rect x="7" y="736" width="160.5" height="18.5" fill="#fff" fill-opacity="0.6"/>
<text x="12.2" y="747.5" font-size="12" fill="#55575f" font-weight="normal" text-anchor="start" textLength="102.2" lengthAdjust="spacingAndGlyphs" >CCI 20 hlc3 SMA 5</text>
<text x="122.7" y="747.5" font-size="12" fill="#2962ff" font-weight="normal" text-anchor="start" textLength="37.3" lengthAdjust="spacingAndGlyphs" >108.12</text>
<path d="M14.9 774.2H27.1V788.9H20.9V779.9H14.9Z" fill="#131722"/><circle cx="31.9" cy="776.9" r="3" fill="#131722"/><path d="M37.5 774.2H44.9L39.2 788.9H31.9Z" fill="#131722"/>
<g clip-path="url(#cw)" font-family="'Liberation Sans', 'Noto Sans CJK SC', sans-serif" font-weight="900" font-style="italic" font-size="60" stroke-linejoin="round">
<text x="1275" y="789" fill="#8c8c8c" fill-opacity="0.5" stroke="#8c8c8c" stroke-opacity="0.5" stroke-width="3" transform="translate(2.6,2.6)" filter="url(#bl)">海马财经</text>
<text x="1275" y="789" fill="#fff" fill-opacity="0.9" stroke="#fff" stroke-opacity="0.9" stroke-width="3">海马财经</text>
</g>
<g clip-path="url(#cw)" font-weight="bold" font-style="italic" font-size="33">
<text x="1290.5 1317 1346 1370.5 1393.5 1421 1447 1467.5 1492" y="827.6" fill="#8a93c0" fill-opacity="0.75" stroke="#8a93c0" stroke-opacity="0.75" stroke-width="1.2" transform="translate(1.8,1.4)">zzrt01.cn</text>
<text x="1290.5 1317 1346 1370.5 1393.5 1421 1447 1467.5 1492" y="827.6" fill="#8fcbfd" stroke="#8fcbfd" stroke-width="1.2">zzrt01.cn</text>
</g>
<g transform="translate(1490.4,817.4)" stroke="#131722" stroke-width="1.1"><path d="M-3.9 -6.3H3.9L7.3 0L3.9 6.3H-3.9L-7.3 0Z" fill="#fff"/><circle r="2.4" fill="none"/></g>
</svg>
</body></html>
